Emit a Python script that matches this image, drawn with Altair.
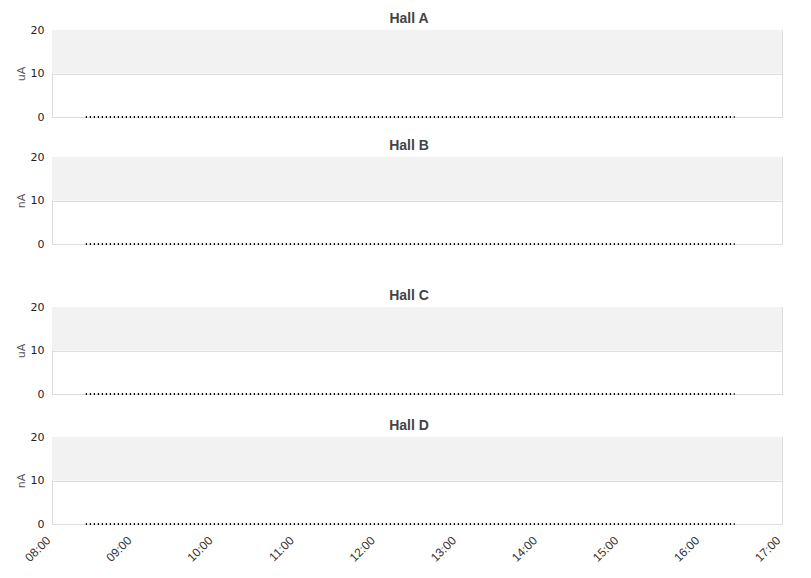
import altair as alt
import pandas as pd

halls = ["Hall A", "Hall B", "Hall C", "Hall D"]
units = ["uA", "nA", "uA", "nA"]
times = ["2024-01-01T08:25:00", "2024-01-01T16:25:00"]
values = [0, 0]
band_lo = [10]
band_hi = [20]
y_ticks = [0, 10, 20]
hours = list(range(8, 18))

FONT = "DejaVu Sans"
TFONT = "Liberation Sans"
W, H = 730, 87

x_domain = [alt.DateTime(year=2024, month=1, date=1, hours=8),
            alt.DateTime(year=2024, month=1, date=1, hours=17)]
x_vals = [alt.DateTime(year=2024, month=1, date=1, hours=h) for h in hours]

band_df = pd.DataFrame({"lo": band_lo, "hi": band_hi})


def panel(name, unit, show_x):
    df = pd.DataFrame({"t": times, "v": values})
    if show_x:
        xaxis = alt.Axis(values=x_vals, format="%H:%M", labelAngle=-45, labelAlign="right",
                         labelBaseline="middle", grid=False, domain=False, ticks=False,
                         labelPadding=14, labelOffset=-4, title=None, labelFontSize=12,
                         labelColor="#333", labelFont=TFONT)
    else:
        xaxis = None
    xenc = alt.X("t:T", scale=alt.Scale(domain=x_domain), axis=xaxis)
    yscale = alt.Scale(domain=[0, 20])
    yaxis = alt.Axis(values=y_ticks, title=unit, grid=True, gridColor="#dddddd", domain=False,
                     ticks=False, labelPadding=8, labelFontSize=11, labelColor="#222",
                     titleFontSize=11, titleFontWeight="normal", titleColor="#555",
                     titlePadding=4, labelFont=FONT, titleFont=FONT)
    band = alt.Chart(band_df).mark_rect(color="#f2f2f2").encode(
        y=alt.Y("lo:Q", scale=yscale, axis=yaxis), y2="hi:Q")
    line = alt.Chart(df).mark_line(color="#000", strokeWidth=2, strokeDash=[1.2, 2.8]).encode(
        x=xenc, y=alt.Y("v:Q", scale=yscale, axis=yaxis))
    return alt.layer(band, line).properties(
        width=W, height=H,
        title=alt.TitleParams(name, fontSize=14, fontWeight="bold", color="#444", font=TFONT,
                              anchor="middle", offset=-2, dx=-8))


top = alt.vconcat(panel(halls[0], units[0], False), panel(halls[1], units[1], False), spacing=15)
bot = alt.vconcat(panel(halls[2], units[2], False), panel(halls[3], units[3], True), spacing=18)
chart = alt.vconcat(top, bot, spacing=38).configure_view(stroke="#dddddd").properties(
    padding={"left": 6, "top": 3, "right": 5, "bottom": 5})

chart.save("out.html", embed_options={"renderer": "svg", "actions": False})
